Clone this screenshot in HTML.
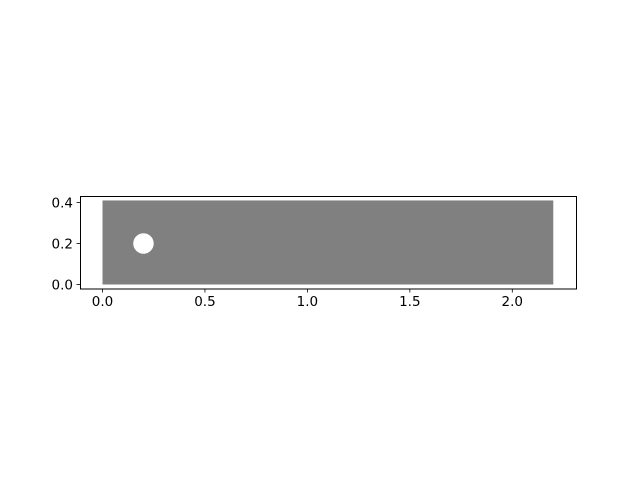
<!DOCTYPE html>
<html><head><meta charset="utf-8"><style>
body{margin:0;background:#fff}
svg{display:block;font-family:"DejaVu Sans","Liberation Sans",sans-serif}
</style></head><body>
<svg width="640" height="480" viewBox="0 0 640 480">
<g id="plot"></g>
<rect x="80.5" y="196.5" width="496" height="92.5" fill="none" stroke="#000" stroke-width="1"/>
<g id="ticks"></g>
</svg>
<script>
const xTicks=[0,0.5,1.0,1.5,2.0];
const xTickLabels=["0.0","0.5","1.0","1.5","2.0"];
const yTicks=[0,0.2,0.4];
const yTickLabels=["0.0","0.2","0.4"];
const domainX=[0,2.2];
const domainY=[0,0.41];
const cylinder=[0.2,0.2,0.05];
const NS="http://www.w3.org/2000/svg";
const sx=v=>102.5+v*204.9;
const sy=v=>284.5-v*205;
function mk(t,a,p){const e=document.createElementNS(NS,t);for(const k in a)e.setAttribute(k,a[k]);p.appendChild(e);return e;}
const plot=document.getElementById('plot');
const r=mk('rect',{x:sx(domainX[0]),y:sy(domainY[1]),width:sx(domainX[1])-sx(domainX[0]),height:sy(domainY[0])-sy(domainY[1]),fill:'#808080'},plot);


const c=mk('circle',{cx:sx(cylinder[0]),cy:sy(cylinder[1]),r:cylinder[2]*205,fill:'#fff'},plot);


const tg=document.getElementById('ticks');
xTicks.forEach((v,i)=>{
 const x=sx(v);
 const l=mk('line',{x1:x,x2:x,y1:289,y2:292.5,stroke:'#000','stroke-width':0.8},tg);
 
 
 const t=mk('text',{x:x,y:306,'font-size':13.5,'text-anchor':'middle',fill:'#000'},tg);
 t.textContent=xTickLabels[i];
 
 
});
yTicks.forEach((v,i)=>{
 const y=sy(v);
 const l=mk('line',{x1:76.5,x2:80.5,y1:y,y2:y,stroke:'#000','stroke-width':0.8},tg);
 
 
 const t=mk('text',{x:73,y:y+5,'font-size':13.5,'text-anchor':'end',fill:'#000'},tg);
 t.textContent=yTickLabels[i];
 
 
});
</script>
</body></html>
